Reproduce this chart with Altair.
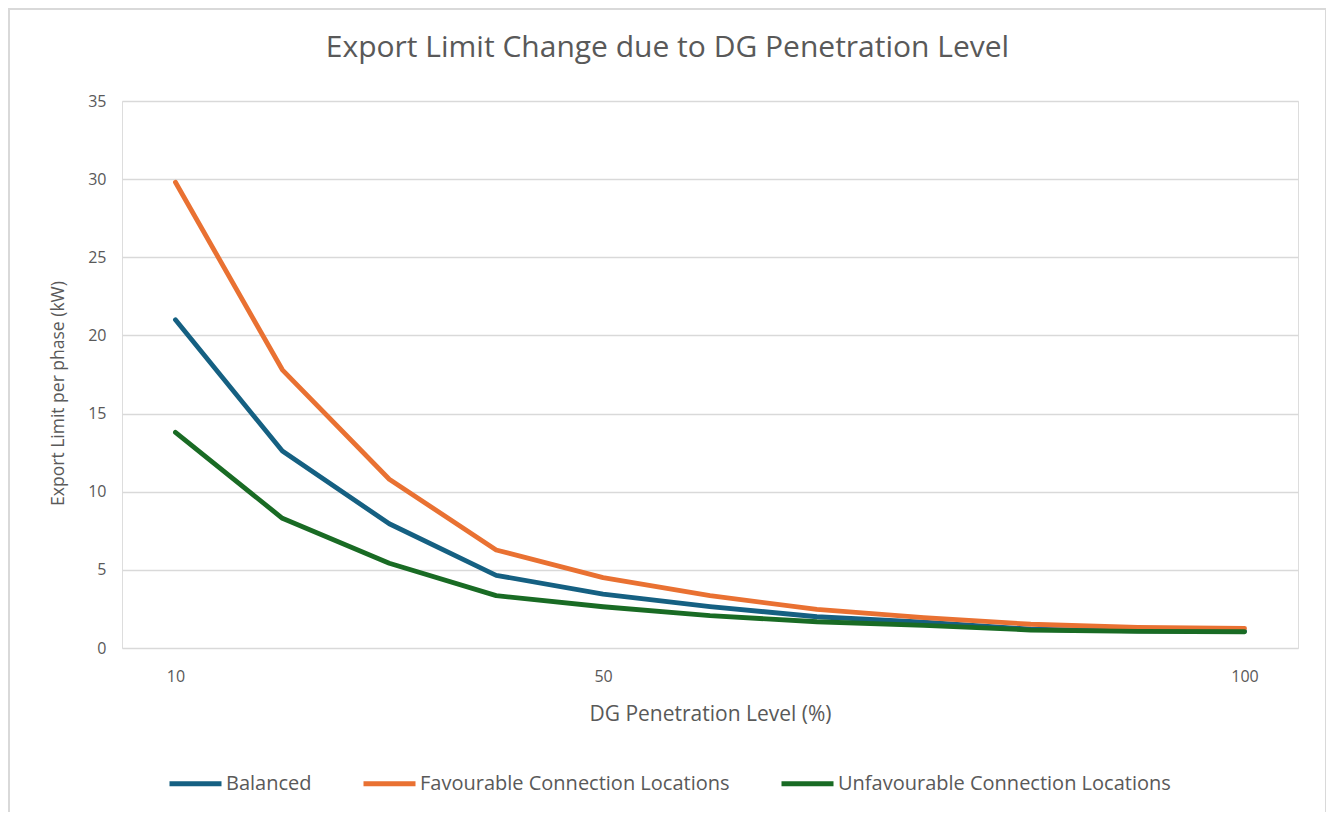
import json
import altair as alt
import pandas as pd

# ---- data ----
categories = ["10", "", "", "", "50", "", "", "", "", "", "100"]
balanced = [21.0, 12.6, 7.95, 4.65, 3.45, 2.65, 2.0, 1.65, 1.2, 1.1, 1.07]
favourable = [29.8, 17.8, 10.8, 6.27, 4.5, 3.35, 2.47, 1.94, 1.52, 1.32, 1.26]
unfavourable = [13.8, 8.3, 5.42, 3.35, 2.64, 2.07, 1.68, 1.45, 1.15, 1.07, 1.04]

series_names = ["Balanced", "Favourable Connection Locations", "Unfavourable Connection Locations"]
series_colors = ["#156082", "#E97132", "#196B24"]

rows = []
for name, vals in zip(series_names, [balanced, favourable, unfavourable]):
    for i, v in enumerate(vals):
        rows.append({"idx": i, "series": name, "value": v})
df = pd.DataFrame(rows)

FONT = "Open Sans"
TXT = "#595959"
GRID = "#D9D9D9"

label_expr = json.dumps(categories) + "[datum.value]"

lines = alt.Chart(df).mark_line(strokeWidth=4.8, strokeCap="round", strokeJoin="round").encode(
    x=alt.X("idx:O", title="DG Penetration Level (%)",
            scale=alt.Scale(type="point", padding=0.5),
            axis=alt.Axis(labelExpr=label_expr, labelAngle=0, ticks=False, domain=False,
                          grid=False, labelPadding=20, titlePadding=19,
                          labelFontSize=16, titleFontSize=21, labelColor=TXT, titleColor=TXT,
                          labelFont=FONT, titleFont=FONT, titleFontWeight="normal")),
    y=alt.Y("value:Q", title="Export Limit per phase (kW)",
            scale=alt.Scale(domain=[0, 35]),
            axis=alt.Axis(values=[0, 5, 10, 15, 20, 25, 30, 35], ticks=False, domain=False,
                          gridColor=GRID, gridWidth=1.5, labelPadding=16, titlePadding=20,
                          titleY=292,
                          labelFontSize=16, titleFontSize=17.5, labelColor=TXT, titleColor=TXT,
                          labelFont=FONT, titleFont=FONT, titleFontWeight="normal")),
    color=alt.Color("series:N", sort=series_names,
                    scale=alt.Scale(domain=series_names, range=series_colors),
                    legend=alt.Legend(title=None, orient="none", direction="horizontal",
                                      legendX=45, legendY=654,
                                      symbolType="stroke", symbolSize=2704, symbolStrokeWidth=5,
                                      labelFontSize=20, labelFont=FONT, labelColor=TXT,
                                      labelLimit=0, labelOffset=2, columnPadding=41)),
)

frame = alt.Chart(alt.Data(values=[{}])).mark_rect(
    fill=None, stroke="#D9D9D9", strokeWidth=2
).encode(
    x=alt.value(-113), x2=alt.value(1204), y=alt.value(-92), y2=alt.value(760)
)

chart = alt.layer(frame, lines).properties(
    width=1176, height=547,
    autosize=alt.AutoSizeParams(type="none"),
    padding={"left": 114, "top": 93, "right": 28, "bottom": 164},
    title=alt.TitleParams("Export Limit Change due to DG Penetration Level",
                          font=FONT, fontSize=30, fontWeight="normal", color=TXT,
                          anchor="middle", frame="bounds", baseline="alphabetic",
                          offset=-79),
).configure_view(stroke=None).configure(background="white")

chart.save("out.html", embed_options={"renderer": "svg", "actions": False})
